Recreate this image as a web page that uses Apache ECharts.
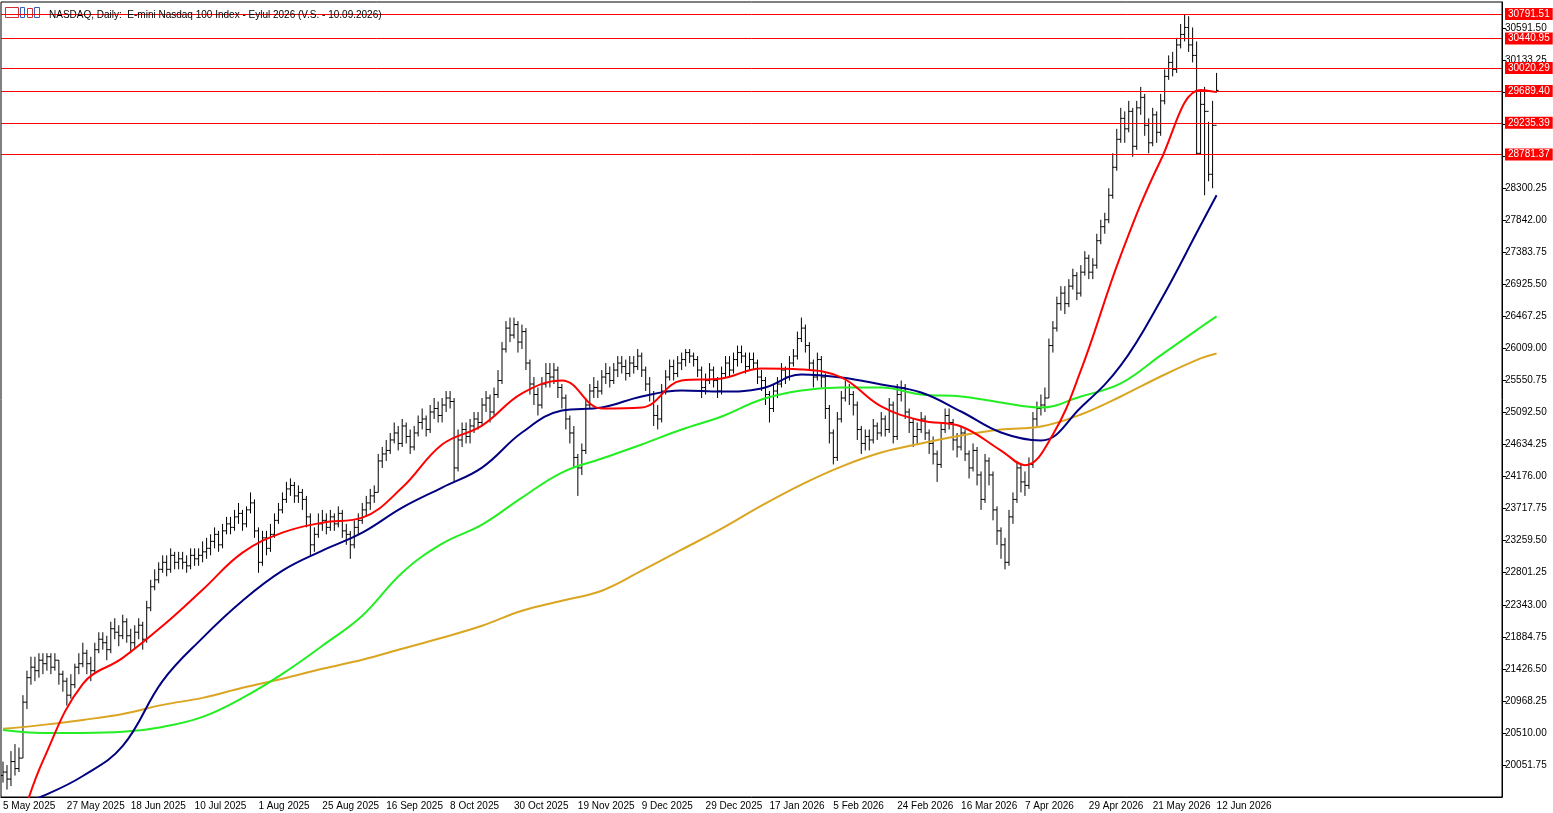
<!DOCTYPE html>
<html>
<head>
<meta charset="utf-8">
<script src="https://cdn.jsdelivr.net/npm/echarts@6/dist/echarts.min.js"></script>
<style>html,body{margin:0;padding:0;background:#fff}#chart{width:1553px;height:813px}</style>
</head>
<body>
<div id="chart"></div>
<script>
var tickLabels = ['5 May 2025','27 May 2025','18 Jun 2025','10 Jul 2025','1 Aug 2025','25 Aug 2025','16 Sep 2025','8 Oct 2025','30 Oct 2025','19 Nov 2025','9 Dec 2025','29 Dec 2025','17 Jan 2026','5 Feb 2026','24 Feb 2026','16 Mar 2026','7 Apr 2026','29 Apr 2026','21 May 2026','12 Jun 2026'];

var firstOpen = 19900;
var closes = [19950,19850,20100,20000,20150,20950,21300,21450,21400,21550,
21500,21600,21450,21550,21350,21250,21050,21200,21450,21500,
21650,21500,21400,21700,21850,21800,21700,22000,21950,21900,
22100,21900,21800,21950,22050,21850,22300,22600,22700,22850,
22950,22850,23050,22950,23000,22950,22900,23050,23000,23050,
23100,23150,23250,23350,23200,23400,23500,23450,23600,23650,
23500,23700,23800,23400,22950,23300,23150,23350,23550,23700,
23850,24000,24050,23900,23950,23850,23600,23200,23350,23500,
23550,23450,23600,23500,23650,23400,23350,23200,23450,23550,
23700,23800,23900,23950,24400,24500,24550,24700,24800,24650,
24900,24750,24600,24800,24950,25000,24850,25100,25150,25050,
25200,25300,25250,24300,24700,24850,24750,24900,25000,24950,
25200,25300,25100,25350,25550,26000,26300,26200,26350,26100,
26250,25800,25500,25350,25200,25500,25650,25600,25700,25450,
25300,25000,24800,24450,24300,24550,25200,25400,25450,25400,
25600,25650,25550,25700,25800,25750,25650,25800,25750,25900,
25700,25500,25350,25050,25000,25400,25600,25750,25650,25800,
25850,25950,25900,25850,25700,25450,25550,25700,25550,25400,
25650,25800,25700,25850,25950,25900,25750,25850,25800,25600,
25550,25350,25150,25400,25500,25700,25600,25800,25900,26150,
26300,26050,25800,25600,25850,25600,25150,24800,24450,25000,
25300,25450,25350,25200,24850,24650,24750,24700,24900,24800,
25000,24850,25200,24750,25350,25450,25100,24950,24750,24850,
25000,24800,24650,24500,24350,24850,25050,24950,24700,24600,
24800,24500,24300,24550,24200,23850,24400,24200,23700,23400,
23200,22950,23600,23850,24300,24100,24050,24350,25000,25150,
25200,25300,26050,26300,26650,26800,26650,26900,27050,26800,
27100,27300,27100,27200,27550,27750,27850,28200,28600,29000,
29300,29150,29400,28900,29450,29600,29200,28950,29350,29100,
29550,29900,30100,30000,30350,30500,30600,30350,30200,28800,
29500,29400,28500,29200,29700];
var highs = [20100,20050,20250,20350,20300,21050,21400,21600,21600,21650,
21650,21650,21650,21650,21550,21400,21300,21350,21500,21650,
21800,21700,21600,21800,21950,21950,21900,22100,22150,22050,
22200,22150,22000,22050,22150,22100,22400,22700,22850,22950,
23050,23050,23150,23100,23100,23100,23050,23150,23150,23150,
23250,23300,23350,23450,23400,23500,23600,23600,23700,23800,
23700,23750,23950,23850,23450,23400,23400,23500,23650,23800,
23950,24100,24150,24100,24050,24000,23900,23650,23450,23650,
23700,23650,23700,23650,23750,23700,23500,23400,23550,23650,
23800,23900,24000,24050,24500,24600,24700,24800,24950,24900,
25000,24950,24850,24900,25050,25150,25050,25200,25300,25250,
25300,25400,25400,25300,24850,24950,24950,25000,25100,25100,
25300,25400,25350,25450,25700,26100,26400,26450,26450,26400,
26350,26300,25850,25600,25450,25600,25800,25800,25800,25750,
25500,25350,25050,24900,24500,24650,25300,25500,25600,25550,
25700,25800,25750,25800,25900,25900,25850,25900,25900,26000,
25950,25750,25600,25400,25200,25500,25700,25850,25850,25900,
25950,26000,26000,25950,25900,25750,25650,25800,25750,25600,
25750,25900,25900,25950,26050,26050,25950,25950,25950,25850,
25700,25600,25400,25500,25600,25800,25750,25900,26000,26250,
26450,26350,26100,25850,25950,25900,25650,25200,24850,25100,
25400,25550,25500,25400,25250,24900,24850,24850,25000,24950,
25100,25050,25300,25250,25500,25550,25500,25150,25000,24950,
25100,25050,24850,24750,24550,24950,25150,25150,25000,24800,
24900,24850,24550,24650,24600,24250,24500,24450,24250,23750,
23450,23300,23700,23950,24400,24350,24250,24450,25100,25250,
25350,25450,26150,26400,26750,26900,26900,27000,27150,27100,
27200,27400,27350,27300,27650,27850,27950,28300,28800,29150,
29450,29400,29550,29450,29550,29750,29650,29300,29450,29400,
29650,30000,30200,30250,30450,30650,30790,30760,30600,30400,
29700,29750,29250,29550,29950];
var lows = [19800,19700,19750,19900,19950,20150,20850,21200,21250,21300,
21350,21400,21350,21400,21200,21100,20900,21000,21150,21350,
21450,21350,21250,21350,21650,21700,21550,21650,21850,21750,
21850,21800,21650,21700,21850,21700,21800,22250,22550,22650,
22800,22750,22800,22850,22850,22850,22800,22850,22900,22900,
22950,23000,23050,23150,23100,23150,23350,23350,23400,23500,
23400,23450,23650,23300,22800,22900,23050,23100,23300,23500,
23650,23800,23900,23800,23800,23700,23450,23050,23100,23300,
23400,23350,23400,23400,23450,23300,23200,23000,23150,23350,
23500,23600,23700,23800,23950,24300,24400,24500,24650,24550,
24600,24650,24500,24550,24750,24850,24750,24800,25000,24950,
24950,25100,25150,24100,24250,24600,24650,24650,24800,24850,
24900,25100,24950,25050,25300,25500,25950,26100,26150,25950,
26000,25700,25350,25200,25050,25150,25450,25450,25500,25300,
25150,24850,24650,24300,23900,24200,24500,25150,25300,25300,
25350,25500,25450,25500,25600,25650,25550,25600,25650,25700,
25600,25400,25250,24900,24850,24950,25350,25550,25550,25600,
25700,25750,25800,25750,25600,25300,25350,25500,25450,25300,
25350,25600,25600,25650,25750,25800,25650,25700,25700,25500,
25400,25200,24950,25100,25300,25450,25500,25550,25750,25850,
26100,25950,25700,25450,25550,25450,25000,24650,24350,24400,
24950,25250,25200,25050,24700,24500,24550,24550,24650,24700,
24750,24750,24800,24650,24700,25250,25000,24800,24600,24650,
24800,24700,24500,24350,24100,24300,24800,24850,24550,24450,
24550,24400,24150,24250,24050,23700,23800,24050,23550,23200,
23000,22850,22900,23500,23800,23950,23900,24000,24300,24900,
25050,25100,25300,25950,26250,26550,26500,26600,26850,26700,
26750,27050,27000,27000,27150,27500,27650,27800,28150,28550,
28950,28950,29100,28750,28850,29350,29050,28800,28900,28950,
29050,29500,29850,29900,29950,30300,30400,30250,30100,28780,
28780,28200,28400,28300,29670];

var ma20 = [[5,19322],[10,20109],[20,21212],[30,21584],[40,22042],[50,22558],[60,23088],[70,23374],[80,23517],[90,23589],[100,24019],[110,24635],[120,24906],[130,25365],[140,25551],[150,25150],[160,25164],[170,25551],[180,25580],[190,25723],[200,25709],[210,25594],[220,25179],[230,24978],[240,24892],[250,24549],[256,24340],[263,24778],[270,25694],[280,27341],[290,28701],[300,29704],[304,29675]];
var ma50 = [[0,19393],[10,19608],[20,19894],[30,20324],[40,21255],[50,21870],[60,22400],[70,22830],[80,23117],[90,23374],[100,23732],[110,24019],[120,24305],[130,24806],[140,25121],[150,25164],[160,25322],[170,25408],[180,25393],[190,25436],[200,25637],[210,25594],[220,25494],[230,25379],[240,25107],[250,24806],[260,24692],[270,25164],[280,25766],[290,26696],[300,27771],[304,28200]];
var ma100 = [[0,20553],[10,20510],[20,20510],[30,20525],[40,20596],[50,20739],[60,21011],[70,21355],[80,21756],[90,22186],[100,22802],[110,23217],[120,23489],[130,23876],[140,24234],[150,24434],[160,24635],[170,24849],[180,25036],[190,25279],[200,25408],[210,25451],[220,25451],[230,25351],[240,25322],[250,25236],[260,25164],[270,25322],[280,25508],[290,25909],[300,26310],[304,26467]];
var ma200 = [[0,20568],[10,20625],[20,20696],[30,20782],[40,20911],[50,21011],[60,21155],[70,21284],[80,21427],[90,21556],[100,21713],[110,21871],[120,22042],[130,22257],[140,22400],[150,22544],[160,22830],[170,23131],[180,23432],[190,23761],[200,24062],[210,24319],[220,24520],[230,24649],[240,24764],[250,24849],[260,24892],[270,25064],[280,25322],[290,25608],[300,25866],[304,25938]];
var levels = [30791.51, 30440.95, 30020.29, 29689.40, 29235.39, 28781.37];

var slots = 376;
var cats = [];
for (var i = 0; i < slots; i++) cats.push(i);
var bars = closes.map(function (c, i) {
  var o = i === 0 ? firstOpen : closes[i - 1];
  return [i, o, c, lows[i], highs[i]];
});

var chart = echarts.init(document.getElementById('chart'));
var font = 'Liberation Sans';
chart.setOption({
  animation: false,
  title: {
    text: 'NASDAQ, Daily:  E-mini Nasdaq 100 Index - Eylul 2026 (V.S. - 10.09.2026)',
    left: 44, top: 5,
    textStyle: { fontFamily: font, fontSize: 10, fontWeight: 'normal', color: '#000' }
  },
  graphic: [
    { type: 'rect', left: 5, top: 7, shape: { width: 13, height: 10 }, style: { fill: '#fff', stroke: '#d03030', lineWidth: 1 } },
    { type: 'rect', left: 20, top: 7, shape: { width: 4, height: 10 }, style: { fill: '#fff', stroke: '#3060c0', lineWidth: 1 } },
    { type: 'rect', left: 27, top: 8, shape: { width: 5, height: 9 }, style: { fill: '#fff', stroke: '#d03030', lineWidth: 1 } },
    { type: 'rect', left: 34, top: 7, shape: { width: 5, height: 10 }, style: { fill: '#fff', stroke: '#3060c0', lineWidth: 1 } }
  ],
  grid: { left: 0, right: 51, top: 2, bottom: 16, show: true, borderColor: '#000', borderWidth: 1 },
  xAxis: {
    type: 'category', data: cats, boundaryGap: true,
    axisLine: { lineStyle: { color: '#000' } },
    axisTick: { interval: function (i) { return i % 16 === 0 && i <= 304; }, length: 4, lineStyle: { color: '#000' } },
    axisLabel: {
      interval: function (i) { return i % 16 === 0 && i <= 304; },
      formatter: function (v, i) { return tickLabels[i / 16] || ''; },
      align: 'left', margin: 4,
      fontFamily: font, fontSize: 10, color: '#000'
    },
    splitLine: { show: false }
  },
  yAxis: {
    type: 'value', position: 'right', scale: true,
    min: 19593.5, max: 30964, interval: 458.25,
    axisLine: { show: true, lineStyle: { color: '#000' } },
    axisTick: { show: true, length: 4, lineStyle: { color: '#000' } },
    axisLabel: {
      showMinLabel: false, showMaxLabel: false, margin: 3,
      formatter: function (v) { return v.toFixed(2); },
      fontFamily: font, fontSize: 10, color: '#000'
    },
    splitLine: { show: false }
  },
  series: [
    {
      type: 'custom', data: bars, z: 3,
      renderItem: function (params, api) {
        var x = api.coord([api.value(0), 0])[0];
        var yo = api.coord([0, api.value(1)])[1];
        var yc = api.coord([0, api.value(2)])[1];
        var yl = api.coord([0, api.value(3)])[1];
        var yh = api.coord([0, api.value(4)])[1];
        var st = { stroke: '#000', lineWidth: 1 };
        return { type: 'group', children: [
          { type: 'line', shape: { x1: x, y1: yh, x2: x, y2: yl }, style: st },
          { type: 'line', shape: { x1: x - 2, y1: yo, x2: x, y2: yo }, style: st },
          { type: 'line', shape: { x1: x, y1: yc, x2: x + 2, y2: yc }, style: st }
        ] };
      }
    },
    { type: 'line', data: ma200, smooth: 0.4, showSymbol: false, lineStyle: { color: '#daa520', width: 2 }, z: 4 },
    { type: 'line', data: ma100, smooth: 0.4, showSymbol: false, lineStyle: { color: '#22ee22', width: 2 }, z: 4 },
    { type: 'line', data: ma50, smooth: 0.4, showSymbol: false, lineStyle: { color: '#000080', width: 2 }, z: 4 },
    {
      type: 'line', data: ma20, smooth: 0.4, showSymbol: false, lineStyle: { color: '#ff0000', width: 2 }, z: 5,
      markLine: {
        silent: true, symbol: ['none', 'none'],
        lineStyle: { color: '#ff0000', width: 1, type: 'solid' },
        label: {
          position: 'end', distance: 3,
          formatter: function (p) { return p.value.toFixed(2); },
          backgroundColor: '#ff0000', color: '#fff', padding: [1, 3],
          fontFamily: font, fontSize: 10
        },
        data: levels.map(function (v) { return { yAxis: v }; })
      }
    }
  ]
});
</script>
</body>
</html>
